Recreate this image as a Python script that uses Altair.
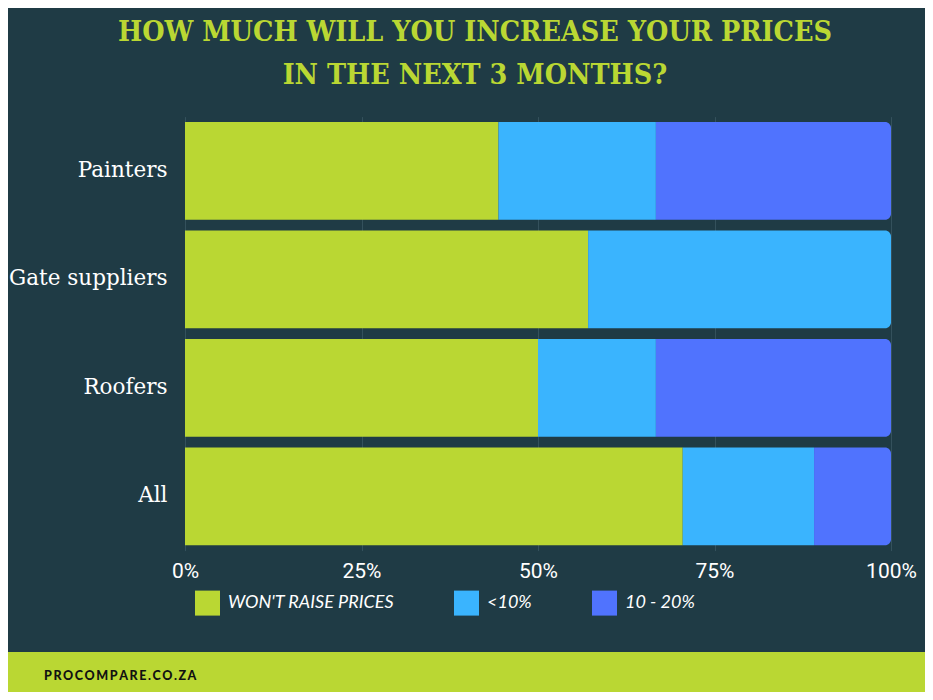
import altair as alt
import pandas as pd

categories = ["Painters", "Gate suppliers", "Roofers", "All"]
series = ["WON'T RAISE PRICES", "<10%", "10 - 20%"]
wont_raise = [44.4, 57.1, 50.0, 70.5]
under_10 = [22.3, 42.9, 16.7, 18.6]
ten_twenty = [33.3, 0.0, 33.3, 10.9]
x_ticks = [0, 25, 50, 75, 100]
colors = ["#bad733", "#3ab4fe", "#5073fe"]

BG = "#1f3b45"
LIME = "#bad733"

rows = []
for i, c in enumerate(categories):
    vals = [wont_raise[i], under_10[i], ten_twenty[i]]
    last = max(j for j, v in enumerate(vals) if v > 0)
    start = 0.0
    for j, (s, v) in enumerate(zip(series, vals)):
        if v <= 0:
            continue
        rows.append({"cat": c, "series": s, "start": start, "end": start + v,
                     "last": j == last})
        start += v
df = pd.DataFrame(rows)

color = alt.Color("series:N", scale=alt.Scale(domain=series, range=colors),
                  title=None,
                  legend=alt.Legend(orient="none", legendX=10, legendY=474,
                                    direction="horizontal", symbolType="square",
                                    symbolSize=625, symbolStrokeWidth=0,
                                    symbolOpacity=1, labelFont="Lato",
                                    labelFontStyle="italic", labelFontSize=18,
                                    labelColor="#ffffff", labelOffset=8,
                                    labelLimit=400,
                                    columnPadding=60, padding=0))

xenc = alt.X("start:Q", scale=alt.Scale(domain=[0, 100], nice=False),
             axis=alt.Axis(values=x_ticks, labelExpr="datum.value + '%'",
                           title=None, domain=False, ticks=False,
                           labelFont="Roboto", labelFontSize=21,
                           labelColor="#ffffff", labelPadding=10,
                           labelFlush=False,
                           grid=True, gridColor="#34515c", gridWidth=1))
yenc = alt.Y("cat:N", sort=categories,
             scale=alt.Scale(paddingInner=0.1, paddingOuter=0.05),
             axis=alt.Axis(title=None, domain=False, ticks=False,
                           labelFont="DejaVu Serif", labelFontSize=21.5,
                           labelColor="#ffffff", labelPadding=18))

base = alt.Chart(df)
inner = base.transform_filter("!datum.last").mark_bar().encode(
    x=xenc, x2="end:Q", y=yenc, color=color)
outer = base.transform_filter("datum.last").mark_bar(
    cornerRadiusTopRight=6, cornerRadiusBottomRight=6).encode(
    x=xenc, x2="end:Q", y=yenc, color=color)

footer_df = pd.DataFrame({"t": ["P\u2009R\u2009O\u2009C\u2009O\u2009M\u2009P\u2009A\u2009R\u2009E\u2009.\u2009C\u2009O\u2009.\u2009Z\u2009A"]})
band = alt.Chart(footer_df).mark_rect(color=LIME).encode(
    x=alt.value(-177), x2=alt.value(740), y=alt.value(535.4), y2=alt.value(580))
footer = alt.Chart(footer_df).mark_text(
    align="left", baseline="middle", font="Lato", fontWeight=900,
    fontSize=12.5, color="#111111").encode(
    x=alt.value(-141), y=alt.value(559.4), text="t:N")

chart = alt.layer(inner, outer, band, footer).properties(
    width=706, height=434,
    background=BG,
    padding={"left": 177, "top": 108.6, "right": 34, "bottom": 141.4},
    autosize=alt.AutoSizeParams(type="none"),
    title=alt.TitleParams(
        text=["HOW MUCH WILL YOU INCREASE YOUR PRICES", "IN THE NEXT 3 MONTHS?"],
        font="DejaVu Serif Condensed", fontSize=28.5, fontWeight="bold",
        color=LIME, anchor="middle", frame="group", dx=-63, offset=27,
        lineHeight=43),
).configure_view(stroke=None)

chart.save("out.html", embed_options={"renderer": "svg", "actions": False})
